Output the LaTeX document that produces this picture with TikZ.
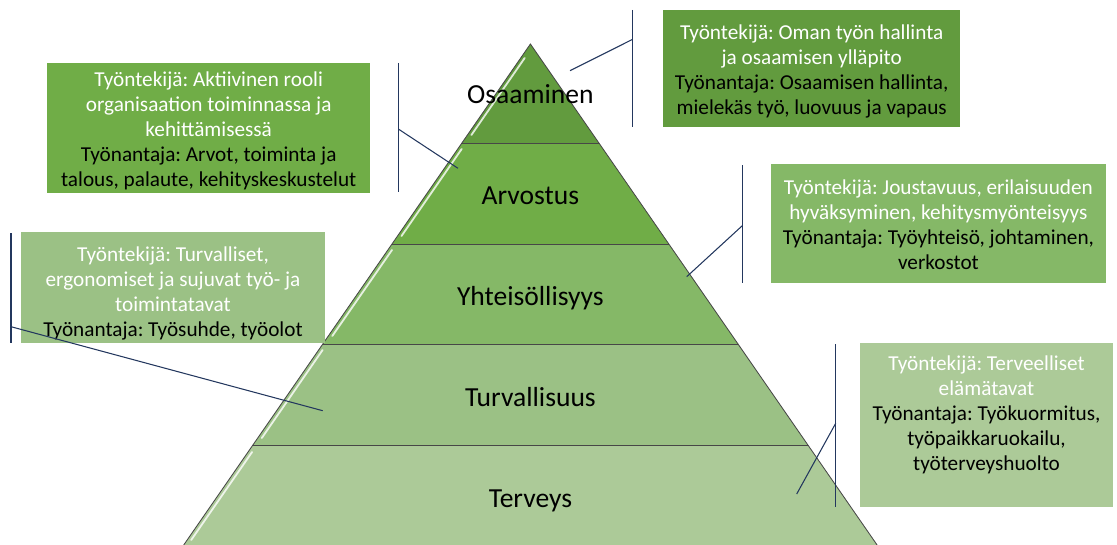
\documentclass[tikz,border=0pt]{standalone}
\usepackage{fontspec}
\setmainfont{Carlito}
\frenchspacing
\definecolor{greenA}{HTML}{629B3E}
\definecolor{greenB}{HTML}{70AD47}
\definecolor{greenC}{HTML}{85B867}
\definecolor{greenD}{HTML}{9BC185}
\definecolor{greenE}{HTML}{ACCA98}
\definecolor{linkblue}{HTML}{23375E}
\begin{document}
\begin{tikzpicture}[
  x=0.025cm, y=-0.025cm,
  level/.style={font=\fontsize{19.6}{24}\selectfont, anchor=base},
  box/.style={inner sep=0pt},
  boxtext/.style={inner sep=0pt, align=center, text=white, font=\fontsize{15.1}{17.8}\selectfont},
  edge/.style={draw=black!72, line width=0.6pt},
  glint/.style={white, line width=1.3pt, line cap=round, opacity=0.8},
  link/.style={linkblue, line width=0.75pt},
]
\useasboundingbox (0,0) rectangle (1117,545);

\fill[greenE] (183.7,545) -- (252.4,445.8) -- (808.4,445.8) -- (877.1,545) -- cycle;
\fill[greenD] (252.4,445.8) -- (322.7,344.1) -- (738.1,344.1) -- (808.4,445.8) -- cycle;
\fill[greenC] (322.7,344.1) -- (391.8,244.3) -- (669.0,244.3) -- (738.1,344.1) -- cycle;
\fill[greenB] (391.8,244.3) -- (461.8,143.2) -- (599.0,143.2) -- (669.0,244.3) -- cycle;
\fill[greenA] (461.8,143.2) -- (530.4,44) -- (599.0,143.2) -- cycle;

\draw[glint] (524.7,58) -- (471.4,135);
\draw[glint] (461.7,149) -- (401.5,236);
\draw[glint] (392.0,250) -- (332.3,336);
\draw[glint] (322.6,350) -- (261.8,438);
\draw[glint] (252.1,452) -- (191.2,540);

\draw[edge] (183.7,545) -- (530.4,44) -- (877.1,545);
\draw[edge] (252.4,445.8) -- (808.4,445.8);
\draw[edge] (322.7,344.1) -- (738.1,344.1);
\draw[edge] (391.8,244.3) -- (669.0,244.3);
\draw[edge] (461.8,143.2) -- (599.0,143.2);

\node[level] (osaaminen) at (530.4,103.7) {Osaaminen};
\node[level] (arvostus) at (530.4,204.8) {Arvostus};
\node[level] (yhteisollisyys) at (530.4,305.4) {Yhteisöllisyys};
\node[level] (turvallisuus) at (530.4,406.0) {Turvallisuus};
\node[level] (terveys) at (530.4,507.2) {Terveys};

\node[box, fill=greenB, minimum width=8.07cm, minimum height=3.25cm] (box1) at (208.7,127.7) {};
\node[box, fill=greenA, minimum width=7.42cm, minimum height=2.93cm] (box2) at (811.7,68.7) {};
\node[box, fill=greenC, minimum width=8.38cm, minimum height=2.97cm] (box3) at (938.4,223.4) {};
\node[box, fill=greenD, minimum width=7.6cm, minimum height=2.78cm] (box4) at (173,287.8) {};
\node[box, fill=greenE, minimum width=6.33cm, minimum height=4.09cm] (box5) at (986.5,425) {};

\node[boxtext] (text1) at (208.7,130.9)
  {Työntekijä: Aktiivinen rooli\\organisaation toiminnassa ja\\kehittämisessä\\
   \color{black}Työnantaja: Arvot, toiminta ja\\\color{black}talous, palaute, kehityskeskustelut};
\node[boxtext] (text2) at (811.7,71.4)
  {Työntekijä: Oman työn hallinta\\ja osaamisen ylläpito\\
   \color{black}Työnantaja: Osaamisen hallinta,\\\color{black}mielekäs työ, luovuus ja vapaus};
\node[boxtext] (text3) at (938.4,224.6)
  {Työntekijä: Joustavuus, erilaisuuden\\hyväksyminen, kehitysmyönteisyys\\
   \color{black}Työnantaja: Työyhteisö, johtaminen,\\\color{black}verkostot};
\node[boxtext] (text4) at (173,293.6)
  {Työntekijä: Turvalliset,\\ergonomiset ja sujuvat työ- ja\\toimintatavat\\
   \color{black}Työnantaja: Työsuhde, työolot};
\node[boxtext, anchor=north] (text5) at (986.5,355.5)
  {Työntekijä: Terveelliset\\elämätavat\\
   \color{black}Työnantaja: Työkuormitus,\\\color{black}työpaikkaruokailu,\\\color{black}työterveyshuolto};

\coordinate (arv-top) at (398.3,63);
\coordinate (arv-bot) at (398.3,191.7);
\coordinate (arv-tap) at (398.3,129);
\coordinate (arv-tip) at (458,168.3);
\coordinate (osa-top) at (632.7,10);
\coordinate (osa-bot) at (632.7,127);
\coordinate (osa-tap) at (632.7,39.3);
\coordinate (osa-tip) at (570,70.7);
\coordinate (yht-top) at (742.3,165);
\coordinate (yht-bot) at (742.3,282.7);
\coordinate (yht-tap) at (742.3,225.7);
\coordinate (yht-tip) at (686.7,276.7);
\coordinate (tur-top) at (11,233.3);
\coordinate (tur-bot) at (11,343.3);
\coordinate (tur-tap) at (11,326.7);
\coordinate (tur-tip) at (322.7,410.7);
\coordinate (ter-top) at (835.7,344);
\coordinate (ter-bot) at (835.7,507.3);
\coordinate (ter-tap) at (835.7,423.3);
\coordinate (ter-tip) at (796.7,494);

\draw[link] (arv-top) -- (arv-bot);
\draw[link] (arv-tap) -- (arv-tip);
\draw[link] (osa-top) -- (osa-bot);
\draw[link] (osa-tap) -- (osa-tip);
\draw[link] (yht-top) -- (yht-bot);
\draw[link] (yht-tap) -- (yht-tip);
\draw[link] (tur-top) -- (tur-bot);
\draw[link] (tur-tap) -- (tur-tip);
\draw[link] (ter-top) -- (ter-bot);
\draw[link] (ter-tap) -- (ter-tip);
\end{tikzpicture}
\end{document}
